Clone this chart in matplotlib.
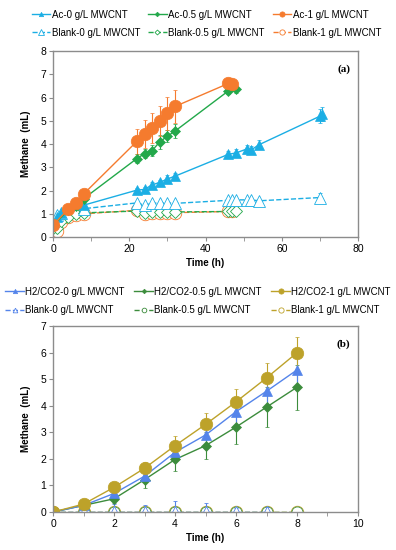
import numpy as np
import matplotlib
matplotlib.use("Agg")
import matplotlib.pyplot as plt
from matplotlib.ticker import MultipleLocator

plt.rcParams["font.family"] = ["Liberation Sans", "DejaVu Sans"]

# ---- panel (a): acetate ----
t_ac0 = [0, 1, 2, 8, 22, 24, 26, 28, 30, 32, 46, 48, 51, 52, 54, 70, 70.5]
ac0 = [0.6, 0.85, 1.05, 1.37, 2.02, 2.05, 2.25, 2.35, 2.5, 2.62, 3.56, 3.62, 3.8, 3.75, 3.97, 5.2, 5.3]
ac0_err = [0.05, 0.05, 0.05, 0.08, 0.1, 0.1, 0.12, 0.12, 0.15, 0.15, 0.15, 0.15, 0.18, 0.18, 0.2, 0.3, 0.3]

t_ac05 = [0, 4, 6, 8, 22, 24, 26, 28, 30, 32, 46, 48]
ac05 = [0.5, 1.15, 1.35, 1.65, 3.38, 3.59, 3.72, 4.1, 4.34, 4.56, 6.29, 6.35]
ac05_err = [0.05, 0.08, 0.08, 0.1, 0.2, 0.2, 0.25, 0.3, 0.25, 0.3, 0.15, 0.15]

t_ac1 = [0, 4, 6, 8, 22, 24, 26, 28, 30, 32, 46, 47]
ac1 = [0.5, 1.22, 1.47, 1.85, 4.12, 4.43, 4.7, 5.0, 5.32, 5.62, 6.61, 6.6]
ac1_err = [0.05, 0.08, 0.1, 0.12, 0.55, 0.6, 0.65, 0.65, 0.7, 0.72, 0.1, 0.1]

t_bl0_a = [0, 1, 2, 8, 22, 24, 26, 28, 30, 32, 46, 47, 48, 51, 52, 54, 70]
bl0_a = [0.7, 0.95, 1.02, 1.22, 1.47, 1.37, 1.45, 1.47, 1.47, 1.45, 1.58, 1.6, 1.6, 1.6, 1.6, 1.56, 1.7]
bl0_a_err = [0.03] * 16 + [0.2]

t_bl05_a = [0, 1, 2, 4, 6, 8, 22, 24, 26, 28, 30, 32, 46, 47, 48]
bl05_a = [0.38, 0.4, 0.7, 0.88, 0.98, 1.04, 1.12, 1.05, 1.08, 1.08, 1.08, 1.08, 1.1, 1.1, 1.1]

t_bl1_a = [0, 1, 2, 4, 6, 8, 22, 24, 26, 28, 30, 32, 46, 47]
bl1_a = [0.32, 0.28, 0.65, 0.85, 0.95, 1.0, 1.15, 0.98, 1.05, 1.05, 1.05, 1.05, 1.1, 1.1]

# ---- panel (b): H2/CO2 ----
t_b = [0, 1, 2, 3, 4, 5, 6, 7, 8]
h0 = [0, 0.25, 0.7, 1.35, 2.25, 2.9, 3.78, 4.55, 5.35]
h0_err = [0, 0.05, 0.12, 0.2, 0.3, 0.4, 0.5, 0.55, 0.6]
h05 = [0, 0.25, 0.5, 1.22, 1.98, 2.5, 3.2, 3.95, 4.7]
h05_err = [0, 0.05, 0.15, 0.3, 0.42, 0.52, 0.62, 0.75, 0.85]
h1 = [0, 0.3, 0.93, 1.65, 2.5, 3.3, 4.15, 5.05, 6.0]
h1_err = [0, 0.05, 0.15, 0.25, 0.35, 0.42, 0.5, 0.57, 0.6]

t_bl0_b = [0, 1, 2, 3, 4, 5, 6, 7]
bl0_b = [0, 0, 0, 0, 0, 0, 0, 0]
bl0_b_err = [0, 0, 0.3, 0.25, 0.4, 0.35, 0.15, 0.2]
bl05_b = [0, 0, 0, 0, 0, 0, 0, 0, 0]
bl1_b = [0, 0, 0, 0, 0, 0, 0, 0, 0]

C_BLUE_A, C_GREEN_A, C_ORANGE_A = "#1BAEE4", "#22A84A", "#F57B2E"
C_BLUE_B, C_GREEN_B, C_GOLD_B = "#5484EA", "#3C8C3C", "#BDA22A"
FRAME = "#8C8C8C"
FS = 7.5
FS_LEG = 7


def style_axes(ax, xmax, xmajor, xminor, ymax):
    ax.set_xlim(0, xmax)
    ax.set_ylim(0, ymax)
    ax.xaxis.set_major_locator(MultipleLocator(xmajor))
    ax.xaxis.set_minor_locator(MultipleLocator(xminor))
    ax.yaxis.set_major_locator(MultipleLocator(1))
    for sp in ax.spines.values():
        sp.set_color(FRAME)
        sp.set_linewidth(1.0)
    ax.tick_params(axis="both", which="both", direction="out", length=3,
                   color=FRAME, labelsize=FS, pad=2)
    ax.set_xlabel("Time (h)", fontsize=7, fontweight="bold", labelpad=3)
    ax.set_ylabel("Methane  (mL)", fontsize=7, fontweight="bold", labelpad=7)


def series(ax, t, y, err, color, marker, ms, label, dashed=False, hollow=False):
    kw = dict(color=color, marker=marker, markersize=ms, lw=1.0,
              ls="--" if dashed else "-", markeredgecolor=color,
              markeredgewidth=0.6 if hollow else 0.5,
              markerfacecolor="white" if hollow else color)
    if err is not None:
        h = ax.errorbar(t, y, yerr=err, ecolor=color, elinewidth=0.8,
                        capsize=1.5, capthick=0.8, **kw)
        line = h.lines[0]
    else:
        line = ax.plot(t, y, **kw)[0]
    line.set_label(label)
    return line


def add_legend(handles, x, y, colsp):
    fig.legend(handles=handles, labels=[h.get_label() for h in handles],
               ncol=3, loc="center", bbox_to_anchor=(x, y),
               fontsize=FS_LEG, frameon=False, handlelength=1.9,
               handletextpad=0.15, columnspacing=colsp, labelspacing=0.85,
               markerscale=0.42, borderpad=0.2)


fig = plt.figure(figsize=(3.96, 5.5), dpi=100)
axa = fig.add_axes([0.134, 0.569, 0.770, 0.338])
axb = fig.add_axes([0.134, 0.069, 0.770, 0.338])

# panel (a)
h_bl1 = series(axa, t_bl1_a, bl1_a, None, C_ORANGE_A, "o", 9, "Blank-1 g/L MWCNT", True, True)
h_bl05 = series(axa, t_bl05_a, bl05_a, None, C_GREEN_A, "D", 6, "Blank-0.5 g/L MWCNT", True, True)
h_bl0 = series(axa, t_bl0_a, bl0_a, bl0_a_err, C_BLUE_A, "^", 9, "Blank-0 g/L MWCNT", True, True)
h_a0 = series(axa, t_ac0, ac0, ac0_err, C_BLUE_A, "^", 7.5, "Ac-0 g/L MWCNT")
h_a05 = series(axa, t_ac05, ac05, ac05_err, C_GREEN_A, "D", 5.5, "Ac-0.5 g/L MWCNT")
h_a1 = series(axa, t_ac1, ac1, ac1_err, C_ORANGE_A, "o", 9, "Ac-1 g/L MWCNT")
style_axes(axa, 80, 20, 10, 8)
axa.text(0.975, 0.93, "(a)", transform=axa.transAxes, ha="right", va="top",
         fontsize=8, fontweight="bold", family="Liberation Serif")
add_legend([h_a0, h_bl0, h_a05, h_bl05, h_a1, h_bl1], 0.521, 0.957, 0.85)

# panel (b)
b_bl1 = series(axb, t_b, bl1_b, None, C_GOLD_B, "o", 9, "Blank-1 g/L MWCNT", True, True)
b_bl05 = series(axb, t_b, bl05_b, None, C_GREEN_B, "o", 8, "Blank-0.5 g/L MWCNT", True, True)
b_bl0 = series(axb, t_bl0_b, bl0_b, bl0_b_err, C_BLUE_B, "^", 8, "Blank-0 g/L MWCNT", True, True)
b_h05 = series(axb, t_b, h05, h05_err, C_GREEN_B, "D", 5.5, "H2/CO2-0.5 g/L MWCNT")
b_h0 = series(axb, t_b, h0, h0_err, C_BLUE_B, "^", 7.5, "H2/CO2-0 g/L MWCNT")
b_h1 = series(axb, t_b, h1, h1_err, C_GOLD_B, "o", 9, "H2/CO2-1 g/L MWCNT")
style_axes(axb, 10, 2, 1, 7)
axb.text(0.975, 0.93, "(b)", transform=axb.transAxes, ha="right", va="top",
         fontsize=8, fontweight="bold", family="Liberation Serif")
add_legend([b_h0, b_bl0, b_h05, b_bl05, b_h1, b_bl1], 0.5, 0.453, 1.0)

fig.savefig("out.png", dpi=100)
